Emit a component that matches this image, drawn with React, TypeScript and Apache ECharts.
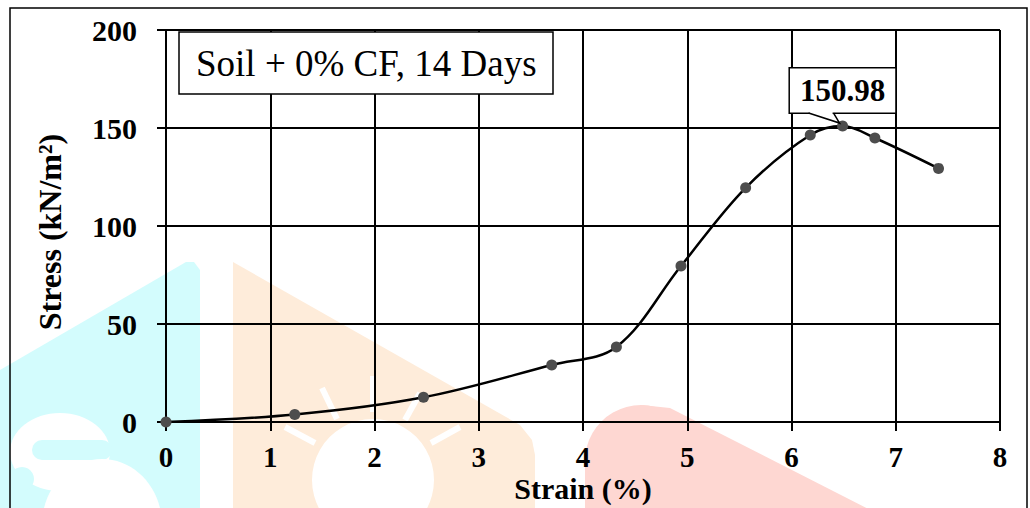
import { useEffect, useRef } from "react";
import * as echarts from "echarts";

// ---- data ----
const strain = [0, 1.235, 2.47, 3.7, 4.32, 4.94, 5.56, 6.18, 6.49, 6.8, 7.41];
const stress = [0, 3.8, 12.6, 29.1, 38.3, 79.6, 119.5, 146.4, 150.98, 144.9, 129.4];
const peakIndex = 8;
const peakLabel = "150.98";
const xMin = 0;
const xMax = 8;
const xStep = 1;
const yMin = 0;
const yMax = 200;
const yStep = 50;
const boxTitle = "Soil + 0% CF, 14 Days";
const xName = "Strain (%)";
const yName = "Stress (kN/m\u00B2)";

const FONT = "'Liberation Serif', 'Times New Roman', Times, serif";

// decorative watermark (background, not data)
const CYAN = "#d3fcfd";
const PEACH = "#feecda";
const PINK = "#fed7d2";

function watermark(): any[] {
  const z = -100;
  const els: any[] = [];
  els.push({ type: "polygon", z, silent: true, shape: { points: [[0, 370], [186, 262], [194, 262], [200, 270], [200, 520], [0, 520]] }, style: { fill: CYAN } });
  els.push({ type: "ellipse", z: z + 1, silent: true, shape: { cx: 60, cy: 452, rx: 50, ry: 39 }, style: { fill: "#fff" } });
  els.push({ type: "rect", z: z + 2, silent: true, shape: { x: 32, y: 440, width: 80, height: 20, r: 10 }, style: { fill: CYAN } });
  els.push({ type: "ellipse", z: z + 3, silent: true, shape: { cx: 102, cy: 525, rx: 60, ry: 66 }, style: { fill: "#fff" } });
  els.push({ type: "circle", z: z + 4, silent: true, shape: { cx: 22, cy: 479, r: 12 }, style: { fill: CYAN } });
  els.push({ type: "polygon", z, silent: true, shape: { points: [[233, 262], [520, 425], [532, 440], [535, 455], [535, 520], [233, 520]] }, style: { fill: PEACH } });
  els.push({ type: "circle", z: z + 1, silent: true, shape: { cx: 373, cy: 480, r: 61 }, style: { fill: "#fff" } });
  const rays = [
    [[322, 388], [337, 419]],
    [[373, 376], [373, 412]],
    [[420, 393], [405, 420]],
    [[285, 427], [315, 443]],
    [[460, 427], [431, 443]],
  ];
  rays.forEach((r) => {
    els.push({ type: "line", z: z + 1, silent: true, shape: { x1: r[0][0], y1: r[0][1], x2: r[1][0], y2: r[1][1] }, style: { stroke: "#fff", lineWidth: 6 } });
  });
  els.push({ type: "circle", z, silent: true, shape: { cx: 641, cy: 461, r: 56 }, style: { fill: PINK } });
  els.push({ type: "polygon", z, silent: true, shape: { points: [[641, 405], [670, 408], [890, 520], [585, 520], [585, 461]] }, style: { fill: PINK } });
  return els;
}

export default function App() {
  const ref = useRef<HTMLDivElement>(null);

  useEffect(() => {
    const chart = echarts.init(ref.current!, undefined, { renderer: "svg" });

    const data = strain.map((x, i) =>
      i === peakIndex
        ? {
            value: [x, stress[i]],
            label: {
              show: true,
              position: "top",
              distance: 8,
              formatter: peakLabel,
              fontFamily: FONT,
              fontWeight: "bold",
              fontSize: 31,
              lineHeight: 30,
              color: "#000",
              backgroundColor: "#fff",
              borderColor: "#000",
              borderWidth: 1.5,
              padding: [7, 10],
            },
          }
        : [x, stress[i]]
    );

    chart.setOption({
      animation: false,
      backgroundColor: "#fff",
      title: {
        text: boxTitle,
        left: 179,
        top: 32,
        padding: [12, 17],
        borderColor: "#000",
        borderWidth: 1.5,
        backgroundColor: "#fff",
        textStyle: { fontFamily: FONT, fontWeight: "normal", fontSize: 37, lineHeight: 38, color: "#000" },
      },
      grid: { left: 166, top: 30, width: 834, height: 392, containLabel: false, outerBoundsMode: "none" },
      xAxis: {
        type: "value",
        min: xMin,
        max: xMax,
        interval: xStep,
        name: xName,
        nameLocation: "middle",
        nameGap: 55,
        nameMoveOverlap: false,
        nameTextStyle: { fontFamily: FONT, fontWeight: "bold", fontSize: 30, lineHeight: 22, color: "#000" },
        axisLine: { show: true, onZero: false, lineStyle: { color: "#000", width: 2 } },
        axisTick: { show: true, inside: false, length: 9, lineStyle: { color: "#000", width: 2 } },
        axisLabel: { margin: 25, lineHeight: 20, fontFamily: FONT, fontWeight: "bold", fontSize: 29, color: "#000" },
        splitLine: { show: true, lineStyle: { color: "#000", width: 2 } },
      },
      yAxis: {
        type: "value",
        min: yMin,
        max: yMax,
        interval: yStep,
        name: yName,
        nameLocation: "middle",
        nameGap: 100,
        nameMoveOverlap: false,
        nameTextStyle: { fontFamily: FONT, fontWeight: "bold", fontSize: 32, color: "#000", padding: [0, 12, 0, 0] },
        axisLine: { show: true, onZero: false, lineStyle: { color: "#000", width: 2 } },
        axisTick: { show: true, inside: false, length: 9, lineStyle: { color: "#000", width: 2 } },
        axisLabel: { margin: 29, fontFamily: FONT, fontWeight: "bold", fontSize: 30, color: "#000" },
        splitLine: { show: true, lineStyle: { color: "#000", width: 2 } },
      },
      series: [
        {
          type: "line",
          data,
          smooth: 0.35,
          symbol: "circle",
          symbolSize: 11,
          showAllSymbol: true,
          lineStyle: { color: "#000", width: 2.5 },
          itemStyle: { color: "#4d4d4d" },
          z: 3,
        },
      ],
    });

    const [px, py] = chart.convertToPixel({ gridIndex: 0 }, [strain[peakIndex], stress[peakIndex]]) as number[];
    const boxBottom = py - 13;

    chart.setOption({
      graphic: [
        ...watermark(),
        {
          type: "line",
          z: 100,
          silent: true,
          shape: { x1: px - 33, y1: boxBottom, x2: px - 10, y2: boxBottom },
          style: { stroke: "#fff", lineWidth: 2.5 },
        },
        {
          type: "polyline",
          z: 101,
          silent: true,
          shape: { points: [[px - 34, boxBottom], [px - 3, py - 3], [px - 9, boxBottom]] },
          style: { stroke: "#000", lineWidth: 1.5, fill: "none" },
        },
        {
          type: "rect",
          z: 100,
          silent: true,
          shape: { x: 10, y: 8, width: 1017, height: 530 },
          style: { stroke: "#000", lineWidth: 1.5, fill: "none" },
        },
      ],
    });

    return () => chart.dispose();
  }, []);

  return (
    <div
      ref={ref}
      style={{ position: "fixed", left: 0, top: 0, width: 1030, height: 508, background: "#fff" }}
    />
  );
}
